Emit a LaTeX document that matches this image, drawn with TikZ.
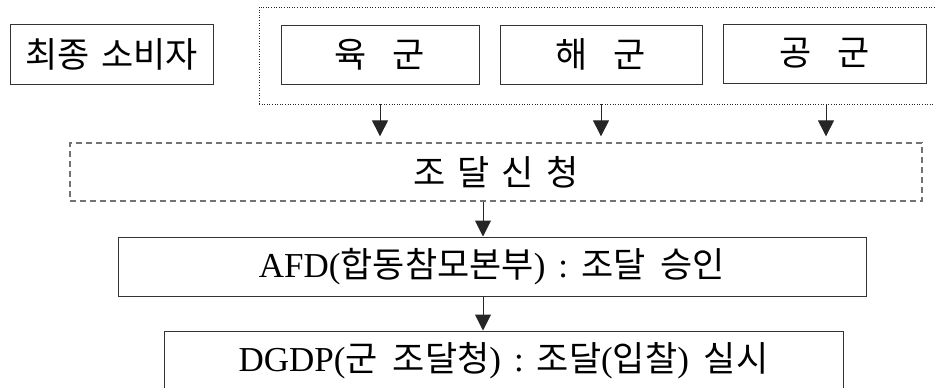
\documentclass[tikz,border=0pt]{standalone}
\usepackage{fontspec}
\setmainfont{Liberation Serif}
\newfontfamily\kr{Noto Sans CJK KR}
\usetikzlibrary{arrows.meta}
\newcommand\latn[1]{{\rmfamily #1}}
\newcommand\gap[1]{\hspace{#1pt}}
\begin{document}
\begin{tikzpicture}[x=1pt,y=-1pt,
  box/.style={draw=black!80, line width=1pt, inner sep=0pt, font=\kr\fontsize{35}{42}\selectfont},
  grpbox/.style={draw=black!85, line width=0.9pt, dash pattern=on 1pt off 1.6pt, inner sep=0pt},
  reqbox/.style={draw=black!55, line width=1.3pt, dash pattern=on 6pt off 4pt, inner sep=0pt, font=\kr\fontsize{35}{42}\selectfont},
  arr/.style={draw=black!85, line width=1pt, -{Triangle[width=16pt,length=16pt]}},
]
\clip (0,0) rectangle (935,388);
% group of services (dotted)
\node[grpbox, minimum width=686pt, minimum height=97pt] (grp) at (602,55.5) {};
\node[box, minimum width=203pt, minimum height=60pt] (cons) at (111.5,54) {최종\gap{12}소비자};
\node[box, minimum width=198pt, minimum height=59pt] (yuk) at (380,54.5) {육\gap{26}군};
\node[box, minimum width=202pt, minimum height=59pt] (hae) at (601,54.5) {해\gap{26}군};
\node[box, minimum width=203pt, minimum height=59pt] (gong) at (824.5,53.5) {공\gap{26}군};
% request
\node[reqbox, minimum width=852pt, minimum height=58pt] (req) at (496,172) {조\gap{12}달\gap{12}신\gap{12}청};
% approval
\node[box, minimum width=748pt, minimum height=59pt] (afd) at (492,266.5)
  {\latn{AFD(}합동참모본부\latn{)}\gap{13}\latn{:}\gap{13}조달\gap{15}승인};
% execution
\node[box, minimum width=679pt, minimum height=60pt] (dgdp) at (503.5,361)
  {\latn{DGDP(}군\gap{15}조달청\latn{)}\gap{13}\latn{:}\gap{13}조달\latn{(}입찰\latn{)}\gap{15}실시\gap{28}};
% arrows
\coordinate (cx) at (483,0);
\coordinate (gx) at (826,0);
\draw[arr, shorten >=6pt] (yuk |- grp.south) -- (yuk |- req.north);
\draw[arr, shorten >=6pt] (hae |- grp.south) -- (hae |- req.north);
\draw[arr, shorten >=6pt] (gx |- grp.south) -- (gx |- req.north);
\draw[arr] (cx |- req.south) -- (cx |- afd.north);
\draw[arr] (cx |- afd.south) -- (cx |- dgdp.north);
\end{tikzpicture}
\end{document}
